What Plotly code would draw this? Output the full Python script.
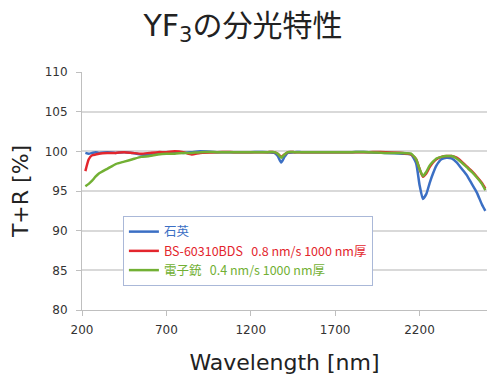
import plotly.graph_objects as go

wavelength = [220, 240, 260, 280, 300, 350, 400, 450, 500, 550, 600, 650, 700, 750, 800, 850, 900,
              1000, 1100, 1200, 1300, 1340, 1360, 1380, 1400, 1420, 1460, 1500, 1600, 1700, 1800,
              1900, 2000, 2100, 2150, 2180, 2200, 2220, 2240, 2260, 2280, 2300, 2330, 2360, 2390,
              2420, 2450, 2480, 2510, 2540, 2570, 2590]

quartz = [99.8, 99.7, 99.8, 99.9, 99.8, 99.9, 99.8, 99.9, 99.8, 99.6, 99.5, 99.7, 99.8, 99.9, 99.8,
          99.9, 100.0, 99.9, 99.9, 99.9, 99.9, 99.8, 99.4, 98.6, 99.3, 99.8, 99.9, 99.9, 99.9,
          99.9, 99.9, 99.9, 99.8, 99.7, 99.6, 98.5, 95.8, 94.0, 94.6, 96.0, 97.2, 98.2, 99.0,
          99.2, 99.1, 98.6, 97.8, 97.0, 95.9, 94.8, 93.3, 92.5]

bs60310 = [97.5, 99.0, 99.5, 99.6, 99.7, 99.8, 99.8, 99.9, 99.8, 99.7, 99.8, 99.9, 99.9, 100.0, 99.9,
           99.6, 99.8, 99.9, 99.9, 99.9, 99.9, 99.9, 99.7, 99.3, 99.6, 99.9, 99.9, 99.9, 99.9,
           99.9, 99.9, 99.9, 99.9, 99.8, 99.6, 99.0, 97.8, 96.8, 97.2, 98.0, 98.6, 99.0, 99.3,
           99.4, 99.4, 99.2, 98.7, 98.1, 97.5, 96.8, 96.0, 95.3]

egun = [95.6, 95.9, 96.3, 96.8, 97.2, 97.8, 98.4, 98.7, 99.0, 99.3, 99.4, 99.6, 99.7, 99.7, 99.8,
        99.8, 99.9, 99.9, 99.9, 99.9, 99.9, 99.9, 99.7, 99.2, 99.6, 99.9, 99.9, 99.9, 99.9,
        99.9, 99.9, 99.9, 99.8, 99.8, 99.7, 99.0, 97.8, 96.9, 97.4, 98.2, 98.7, 99.1, 99.3,
        99.4, 99.4, 99.1, 98.6, 98.0, 97.4, 96.7, 95.9, 95.1]

series_names = ["石英", "BS-60310BDS\u00a0\u00a0\u00a00.8 nm/s 1000 nm厚", "電子銃\u00a0\u00a0\u00a00.4 nm/s 1000 nm厚"]
series_colors = ["#3b6fc4", "#e3262d", "#72b034"]
series_values = [quartz, bs60310, egun]

x_ticks = [200, 700, 1200, 1700, 2200]
y_ticks = [80, 85, 90, 95, 100, 105, 110]

fig = go.Figure()
for name, color, vals in zip(series_names, series_colors, series_values):
    fig.add_trace(go.Scatter(
        x=wavelength, y=vals, mode="lines",
        name=f"<span style='color:{color}'>{name}</span>",
        line=dict(color=color, width=2.5, shape="spline", smoothing=0.5),
    ))

# the page adds an 8 px body margin, so margins are shifted to compensate
fig.update_layout(
    width=500, height=391,
    margin=dict(l=74, r=21, t=64, b=89, autoexpand=False),
    paper_bgcolor="white", plot_bgcolor="white",
    font=dict(family="DejaVu Sans", color="#404040"),
    title=dict(text="YF<sub>3</sub>の分光特性", x=0.47, xanchor="center", y=0.955, yanchor="middle",
               font=dict(size=30, color="#222222", family="DejaVu Sans, Noto Sans CJK JP")),
    showlegend=True,
    legend=dict(x=0.101, y=0.395, xanchor="left", yanchor="top",
                bgcolor="white", bordercolor="#aab8d8", borderwidth=1,
                font=dict(size=12.5, family="Noto Sans CJK JP"),
                itemwidth=30, tracegroupgap=0),
)

fig.update_xaxes(
    range=[200, 2600], tickvals=x_ticks, ticktext=[str(v) for v in x_ticks],
    showgrid=False, zeroline=False, automargin=False,
    showline=True, linecolor="#bfbfbf", linewidth=1,
    ticks="outside", ticklen=5, tickcolor="#bfbfbf", ticklabelstandoff=4,
    tickfont=dict(size=12, color="#333333", family="DejaVu Sans"),
    title=dict(text="Wavelength [nm]", font=dict(size=22, color="#222222", family="DejaVu Sans"), standoff=18),
)
fig.update_yaxes(
    range=[80, 110], tickvals=y_ticks,
    showgrid=True, gridcolor="#d9d9d9", gridwidth=1.5, zeroline=False, automargin=False,
    showline=True, linecolor="#bfbfbf", linewidth=1,
    ticks="outside", ticklen=5, tickcolor="#bfbfbf", ticklabelstandoff=6,
    tickfont=dict(size=12, color="#333333", family="DejaVu Sans"),
    title=dict(text="T+R [%]", font=dict(size=22, color="#222222", family="DejaVu Sans"), standoff=20),
)

fig.write_html("out.html")
